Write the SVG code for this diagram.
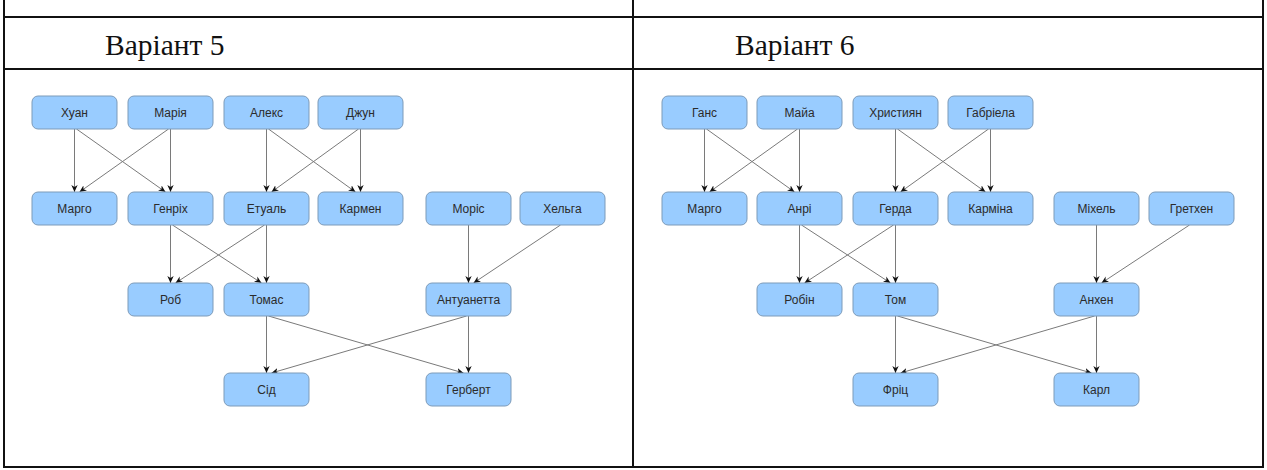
<svg xmlns="http://www.w3.org/2000/svg" width="1267" height="470" viewBox="0 0 1267 470">
<style>
.grid{stroke:#111;stroke-width:2;fill:none}
.title{font-family:"Liberation Serif","Times New Roman",serif;font-size:29.5px;fill:#111}
.node rect{fill:#99ccff;stroke:#7d9bb9;stroke-width:1}
.node text{font-family:"Liberation Sans",Arial,sans-serif;font-size:12px;fill:#2b2b2b;text-anchor:middle}
.edges line{stroke:#7a7a7a;stroke-width:1;marker-end:url(#arr)}
</style>
<defs>
<marker id="arr" viewBox="0 0 10 10" refX="10" refY="5" markerWidth="7" markerHeight="7" markerUnits="userSpaceOnUse" orient="auto">
<path d="M0,0.5 L10,5 L0,9.5 L3,5 z" fill="#111"/>
</marker>
</defs>
<rect width="1267" height="470" fill="#fff"/>
<g id="table">
<line class="grid" x1="4" y1="0" x2="4" y2="468"/>
<line class="grid" x1="633" y1="0" x2="633" y2="468"/>
<line class="grid" x1="1263" y1="0" x2="1263" y2="468"/>
<line class="grid" x1="3" y1="17" x2="1264" y2="17"/>
<line class="grid" x1="3" y1="69" x2="1264" y2="69"/>
<line class="grid" x1="3" y1="467" x2="1264" y2="467"/>
<text class="title" x="105" y="55">Варіант 5</text>
<text class="title" x="735" y="55">Варіант 6</text>
</g>
<g class="edges" id="connectors">
<line x1="74.5" y1="129" x2="74.5" y2="192"/>
<line x1="76.5" y1="129" x2="165.5" y2="192"/>
<line x1="168.5" y1="129" x2="79.5" y2="192"/>
<line x1="170.5" y1="129" x2="170.5" y2="192"/>
<line x1="266.5" y1="129" x2="266.5" y2="192"/>
<line x1="268.5" y1="129" x2="355.5" y2="192"/>
<line x1="358.5" y1="129" x2="271.5" y2="192"/>
<line x1="360.5" y1="129" x2="360.5" y2="192"/>
<line x1="170.5" y1="225" x2="170.5" y2="283"/>
<line x1="172.5" y1="225" x2="261.5" y2="283"/>
<line x1="264.5" y1="225" x2="175.5" y2="283"/>
<line x1="266.5" y1="225" x2="266.5" y2="283"/>
<line x1="468.5" y1="225" x2="468.5" y2="283"/>
<line x1="560.5" y1="225" x2="473.5" y2="283"/>
<line x1="266.5" y1="316" x2="266.5" y2="373"/>
<line x1="268.5" y1="316" x2="463.5" y2="373"/>
<line x1="466.5" y1="316" x2="271.5" y2="373"/>
<line x1="468.5" y1="316" x2="468.5" y2="373"/>
<line x1="704.5" y1="129" x2="704.5" y2="192"/>
<line x1="706.5" y1="129" x2="794.5" y2="192"/>
<line x1="797.5" y1="129" x2="709.5" y2="192"/>
<line x1="799.5" y1="129" x2="799.5" y2="192"/>
<line x1="895.5" y1="129" x2="895.5" y2="192"/>
<line x1="897.5" y1="129" x2="985.5" y2="192"/>
<line x1="988.5" y1="129" x2="900.5" y2="192"/>
<line x1="990.5" y1="129" x2="990.5" y2="192"/>
<line x1="799.5" y1="225" x2="799.5" y2="283"/>
<line x1="801.5" y1="225" x2="890.5" y2="283"/>
<line x1="893.5" y1="225" x2="804.5" y2="283"/>
<line x1="895.5" y1="225" x2="895.5" y2="283"/>
<line x1="1096.5" y1="225" x2="1096.5" y2="283"/>
<line x1="1189.5" y1="225" x2="1101.5" y2="283"/>
<line x1="895.5" y1="316" x2="895.5" y2="373"/>
<line x1="897.5" y1="316" x2="1091.5" y2="373"/>
<line x1="1094.5" y1="316" x2="900.5" y2="373"/>
<line x1="1096.5" y1="316" x2="1096.5" y2="373"/>
</g>
<g class="node" id="l-huan"><rect x="32" y="96" width="85" height="33" rx="6"/><text x="74.5" y="117">Хуан</text></g>
<g class="node" id="l-mariia"><rect x="128" y="96" width="85" height="33" rx="6"/><text x="170.5" y="117">Марія</text></g>
<g class="node" id="l-aleks"><rect x="224" y="96" width="85" height="33" rx="6"/><text x="266.5" y="117">Алекс</text></g>
<g class="node" id="l-dzhun"><rect x="318" y="96" width="85" height="33" rx="6"/><text x="360.5" y="117">Джун</text></g>
<g class="node" id="l-margo"><rect x="32" y="192" width="85" height="33" rx="6"/><text x="74.5" y="213">Марго</text></g>
<g class="node" id="l-henrikh"><rect x="128" y="192" width="85" height="33" rx="6"/><text x="170.5" y="213">Генріх</text></g>
<g class="node" id="l-etual"><rect x="224" y="192" width="85" height="33" rx="6"/><text x="266.5" y="213">Етуаль</text></g>
<g class="node" id="l-karmen"><rect x="318" y="192" width="85" height="33" rx="6"/><text x="360.5" y="213">Кармен</text></g>
<g class="node" id="l-moris"><rect x="426" y="192" width="85" height="33" rx="6"/><text x="468.5" y="213">Моріс</text></g>
<g class="node" id="l-khelha"><rect x="520" y="192" width="85" height="33" rx="6"/><text x="562.5" y="213">Хельга</text></g>
<g class="node" id="l-rob"><rect x="128" y="283" width="85" height="33" rx="6"/><text x="170.5" y="304">Роб</text></g>
<g class="node" id="l-tomas"><rect x="224" y="283" width="85" height="33" rx="6"/><text x="266.5" y="304">Томас</text></g>
<g class="node" id="l-antuanetta"><rect x="426" y="283" width="85" height="33" rx="6"/><text x="468.5" y="304">Антуанетта</text></g>
<g class="node" id="l-sid"><rect x="224" y="373" width="85" height="33" rx="6"/><text x="266.5" y="394">Сід</text></g>
<g class="node" id="l-herbert"><rect x="426" y="373" width="85" height="33" rx="6"/><text x="468.5" y="394">Герберт</text></g>
<g class="node" id="r-hans"><rect x="662" y="96" width="85" height="33" rx="6"/><text x="704.5" y="117">Ганс</text></g>
<g class="node" id="r-maia"><rect x="757" y="96" width="85" height="33" rx="6"/><text x="799.5" y="117">Майа</text></g>
<g class="node" id="r-khrystian"><rect x="853" y="96" width="85" height="33" rx="6"/><text x="895.5" y="117">Християн</text></g>
<g class="node" id="r-habriela"><rect x="948" y="96" width="85" height="33" rx="6"/><text x="990.5" y="117">Габріела</text></g>
<g class="node" id="r-margo"><rect x="662" y="192" width="85" height="33" rx="6"/><text x="704.5" y="213">Марго</text></g>
<g class="node" id="r-anri"><rect x="757" y="192" width="85" height="33" rx="6"/><text x="799.5" y="213">Анрі</text></g>
<g class="node" id="r-herda"><rect x="853" y="192" width="85" height="33" rx="6"/><text x="895.5" y="213">Герда</text></g>
<g class="node" id="r-karmina"><rect x="948" y="192" width="85" height="33" rx="6"/><text x="990.5" y="213">Карміна</text></g>
<g class="node" id="r-mikhel"><rect x="1054" y="192" width="85" height="33" rx="6"/><text x="1096.5" y="213">Міхель</text></g>
<g class="node" id="r-hretkhen"><rect x="1149" y="192" width="85" height="33" rx="6"/><text x="1191.5" y="213">Гретхен</text></g>
<g class="node" id="r-robin"><rect x="757" y="283" width="85" height="33" rx="6"/><text x="799.5" y="304">Робін</text></g>
<g class="node" id="r-tom"><rect x="853" y="283" width="85" height="33" rx="6"/><text x="895.5" y="304">Том</text></g>
<g class="node" id="r-ankhen"><rect x="1054" y="283" width="85" height="33" rx="6"/><text x="1096.5" y="304">Анхен</text></g>
<g class="node" id="r-frits"><rect x="853" y="373" width="85" height="33" rx="6"/><text x="895.5" y="394">Фріц</text></g>
<g class="node" id="r-karl"><rect x="1054" y="373" width="85" height="33" rx="6"/><text x="1096.5" y="394">Карл</text></g>
</svg>
